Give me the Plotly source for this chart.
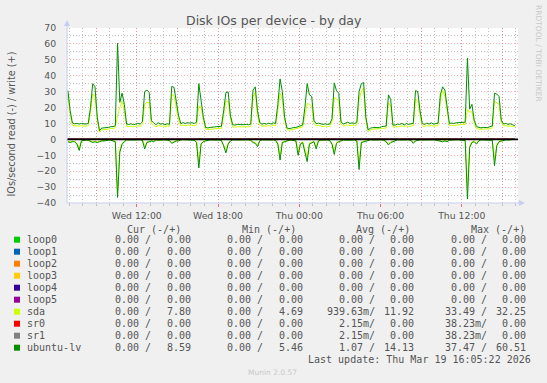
import plotly.graph_objects as go
import pandas as pd

# ---------------- data ----------------
start_time = "2026-03-18 06:55"
step = "10min"

ubuntu_write = [30.6, 18, 10.3,
    9.8, 10, 9.6, 10, 9.8, 9.6, 10,
    20, 35, 33, 14, 5.5,
    7.1, 7.1, 7.5, 7.5, 8, 8, 8.6,
    60.5, 23.3, 29, 22, 9.6,
    9.4, 9.8, 9.2, 9.6, 10, 9.6, 11,
    30, 31, 29.5, 11.7,
    10.5, 9.2, 10.5, 9.5, 10, 9.2, 9.8, 9.5,
    33.3, 32.7, 24, 15,
    10, 10.5, 10, 10.5, 10.2, 10.5, 10, 10.8,
    35, 24, 14,
    7.5, 7.2, 7.5, 7.5, 7.8, 8, 8, 8.2,
    18, 29.5, 29.8, 15,
    9.2, 9, 9.4, 9.2, 9, 9.2, 9.4, 9.2, 9.6,
    31, 33, 18, 10.5,
    9.5, 10, 9.6, 10.2, 9.6, 10.4, 10,
    22, 38, 30, 14,
    7.2, 6.8, 7, 7.5, 7.5, 8, 8.8, 9,
    20, 35, 28, 27, 12,
    9.8, 10.2, 9.6, 9.4, 9.8, 9.4, 9.6,
    13, 35.5, 30.5, 29, 11,
    9.6, 10.2, 10.8, 10, 10.4, 10, 10.8,
    30, 35, 35.8, 14, 6,
    7, 7.4, 7.4, 7.6, 7.4, 8, 8.2, 8.4,
    28, 25, 9,
    9, 9.6, 9.4, 10, 9, 10, 9.4, 9.8, 10,
    30.6, 30, 18, 10,
    9.4, 10.2, 9.6, 10.4, 9.6, 9.8, 10.2,
    28, 33, 31, 20, 10,
    10.2, 10, 10.4, 10.6, 10.4, 11, 10.8,
    51, 19, 22, 12,
    8, 7.4, 7.2, 7.5, 7.6, 7.4, 8, 8.4,
    29, 28.5, 27, 12,
    9.6, 10, 9.4, 9.8, 9.2, 8.6]

sda_write = [28, 16, 8.8,
    8.4, 8.6, 8.2, 8.6, 8.4, 8.2, 8.6,
    17, 28.5, 27, 12, 4.5,
    6, 6, 6.4, 6.4, 6.8, 6.8, 7.4,
    15, 20, 24, 18, 8.2,
    8, 8.4, 7.8, 8.2, 8.6, 8.2, 9.4,
    22, 23.3, 23, 10,
    9, 7.8, 9, 8.2, 8.6, 7.8, 8.4, 8.2,
    28, 27.5, 20, 12,
    8.6, 9, 8.6, 9, 8.8, 9, 8.6, 9.2,
    21, 20, 12,
    6.4, 6.2, 6.4, 6.4, 6.6, 6.8, 6.8, 7,
    15, 24, 24, 13,
    7.8, 7.6, 8, 7.8, 7.6, 7.8, 8, 7.8, 8.2,
    27, 29.5, 15, 9,
    8.2, 8.6, 8.2, 8.8, 8.2, 9, 8.6,
    18, 29, 25, 12,
    6.2, 5.8, 6, 6.4, 6.4, 6.8, 7.6, 7.8,
    15, 22.6, 22, 21, 10,
    8.4, 8.8, 8.2, 8, 8.4, 8, 8.2,
    11, 26.4, 25, 24, 9.5,
    8.2, 8.8, 9.2, 8.6, 9, 8.6, 9.2,
    25, 30, 32.2, 12, 5,
    6, 6.4, 6.4, 6.6, 6.4, 6.8, 7, 7.2,
    23, 21, 7.8,
    7.8, 8.2, 8, 8.6, 7.8, 8.6, 8, 8.4, 8.6,
    25, 24.5, 15, 8.6,
    8, 8.8, 8.2, 9, 8.2, 8.4, 8.8,
    24, 30.6, 27, 17, 8.6,
    8.8, 8.6, 9, 9.2, 9, 9.4, 9.2,
    19, 17, 17.5, 10,
    6.8, 6.4, 6.2, 6.4, 6.6, 6.4, 6.8, 7.2,
    24, 23, 22, 10.5,
    8.4, 8.6, 8.2, 8.4, 8, 7.8]

ubuntu_read = [-1.5, -2, -1.5, -1.5,
    -3, -7, -1,
    -0.5, -0.5, -0.5,
    -1.5, -2, -1.5, -2, -1.5,
    -1, -1, -0.5, -0.5, -0.5, -1, -1.5,
    -36.5, -8, -3, -1.5,
    -0.3, -0.4, -0.3, -0.2, -0.3, -0.4, -0.3, -0.5,
    -6, -2, -1.5, -1, -1.5,
    -0.3, -0.5, -0.3, -0.4, -0.3, -0.5, -0.8,
    -2.5, -1.5, -1, -1,
    -0.3, -0.2, -0.3, -0.4, -0.3, -0.3, -0.5,
    -2, -18, -3, -1.5, -1, -0.5,
    -0.3, -0.4, -0.3, -0.3, -0.4, -0.8,
    -4, -8.5, -3, -1,
    -0.3, -0.4, -0.3, -0.2, -0.3, -0.4, -0.3, -0.3, -0.6,
    -2, -2.5, -4.5, -1,
    -0.3, -0.4, -0.3, -0.3, -0.4, -0.3, -0.6,
    -3, -13, -2, -1.5, -1,
    -0.5, -0.5, -0.6, -1,
    -10, -3, -2, -8, -14, -3, -2, -1.5, -6, -1,
    -0.5, -0.4, -0.5, -0.4, -0.8,
    -3, -9.5, -2.5, -1.5, -1,
    -0.4, -0.5, -0.4, -0.3, -0.5, -0.4, -1,
    -19, -2, -1.5, -1, -0.5,
    -0.3, -0.4, -0.3, -0.3, -0.4, -0.3, -0.6,
    -1.5, -3.5, -2, -1.5, -1,
    -0.3, -0.4, -0.3, -0.3, -0.4, -0.3, -0.6,
    -2.5, -1, -0.5,
    -0.3, -0.4, -0.3, -0.3, -0.4, -0.3, -0.3, -0.5,
    -1, -1, -1.5, -1, -1.5, -0.5,
    -0.3, -0.4, -0.3, -0.3, -0.4, -0.3, -0.8,
    -37.5, -5, -2, -1.5, -3, -1,
    -0.3, -0.4, -0.3, -0.3, -0.4, -0.6,
    -16.5, -4, -1.5, -1, -0.5,
    -0.3, -0.4, -0.3, -0.3, 0]

sda_read = [-1.2, -1.6, -1.2, -1.2,
    -2.5, -5.5, -0.8,
    -0.4, -0.4, -0.4,
    -1.2, -1.6, -1.2, -1.6, -1.2,
    -0.8, -0.8, -0.4, -0.4, -0.4, -0.8, -1.2,
    -33.5, -6, -2.4, -1.2,
    -0.2, -0.3, -0.2, -0.2, -0.2, -0.3, -0.2, -0.4,
    -4.5, -1.6, -1.2, -0.8, -1.2,
    -0.2, -0.4, -0.2, -0.3, -0.2, -0.4, -0.6,
    -2, -1.2, -0.8, -0.8,
    -0.2, -0.2, -0.2, -0.3, -0.2, -0.2, -0.4,
    -1.6, -14, -2.4, -1.2, -0.8, -0.4,
    -0.2, -0.3, -0.2, -0.2, -0.3, -0.6,
    -3.2, -6.5, -2.4, -0.8,
    -0.2, -0.3, -0.2, -0.2, -0.2, -0.3, -0.2, -0.2, -0.5,
    -1.6, -2, -3.5, -0.8,
    -0.2, -0.3, -0.2, -0.2, -0.3, -0.2, -0.5,
    -2.4, -10, -1.6, -1.2, -0.8,
    -0.4, -0.4, -0.5, -0.8,
    -8, -2.4, -1.6, -6.5, -11, -2.4, -1.6, -1.2, -4.5, -0.8,
    -0.4, -0.3, -0.4, -0.3, -0.6,
    -2.4, -7.5, -2, -1.2, -0.8,
    -0.3, -0.4, -0.3, -0.2, -0.4, -0.3, -0.8,
    -15, -1.6, -1.2, -0.8, -0.4,
    -0.2, -0.3, -0.2, -0.2, -0.3, -0.2, -0.5,
    -1.2, -2.8, -1.6, -1.2, -0.8,
    -0.2, -0.3, -0.2, -0.2, -0.3, -0.2, -0.5,
    -2, -0.8, -0.4,
    -0.2, -0.3, -0.2, -0.2, -0.3, -0.2, -0.2, -0.4,
    -0.8, -0.8, -1.2, -0.8, -1.2, -0.4,
    -0.2, -0.3, -0.2, -0.2, -0.3, -0.2, -0.6,
    -30, -4, -1.6, -1.2, -2.4, -0.8,
    -0.2, -0.3, -0.2, -0.2, -0.3, -0.5,
    -13, -3.2, -1.2, -0.8, -0.4,
    -0.2, -0.3, -0.2, -0.2, 0]

names = ["loop0", "loop1", "loop2", "loop3", "loop4", "loop5",
         "sda", "sr0", "sr1", "ubuntu-lv"]
colors = ["#00CC00", "#0066B3", "#FF8000", "#FFCC00", "#330099",
          "#990099", "#CCFF00", "#FF0000", "#808080", "#008F00"]

cur_r = ["0.00"] * 10
cur_w = ["0.00"] * 6 + ["7.80", "0.00", "0.00", "8.59"]
min_r = ["0.00"] * 10
min_w = ["0.00"] * 6 + ["4.69", "0.00", "0.00", "5.46"]
avg_r = ["0.00"] * 6 + ["939.63m", "2.15m", "2.15m", "1.07"]
avg_w = ["0.00"] * 6 + ["11.92", "0.00", "0.00", "14.13"]
max_r = ["0.00"] * 6 + ["33.49", "38.23m", "38.23m", "37.47"]
max_w = ["0.00"] * 6 + ["32.25", "0.00", "0.00", "60.51"]

headers = ["Cur (-/+)", "Min (-/+)", "Avg (-/+)", "Max (-/+)"]
last_update = "Last update: Thu Mar 19 16:05:22 2026"

major_ticks = pd.date_range("2026-03-18 09:00", "2026-03-19 15:00", freq="3h")
tick_text = [t.strftime("%a %H:%M") if t.hour % 6 == 0 else "" for t in major_ticks]
minor_ticks = pd.date_range("2026-03-18 07:00", "2026-03-19 16:00", freq="1h")

# ---------------- figure ----------------
W, H = 547, 383
PL, PR, PT, PB = 67, 518, 28, 203


def fx(x):
    return (x - PL) / (PR - PL)


def fy(y):
    return (PB - y) / (PB - PT)


times = pd.date_range(start_time, periods=len(ubuntu_write), freq=step)
zeros = [0] * len(times)

series_write = {n: zeros for n in names}
series_read = {n: zeros for n in names}
series_write["sda"] = sda_write
series_read["sda"] = sda_read
series_write["ubuntu-lv"] = ubuntu_write
series_read["ubuntu-lv"] = ubuntu_read

fig = go.Figure()
for n, c in zip(names, colors):
    for ys in (series_read[n], series_write[n]):
        fig.add_trace(go.Scatter(x=times, y=ys, mode="lines",
                                 line=dict(color=c, width=1),
                                 hoverinfo="skip", showlegend=False))

GRID_MAJ = "rgba(240,110,110,0.55)"
GRID_MIN = "rgba(150,150,150,0.55)"
TXT = "#555555"
AX = "#C8CCF2"

fig.update_layout(
    width=W, height=H,
    margin=dict(l=PL, r=W - PR, t=PT, b=H - PB, pad=0),
    paper_bgcolor="#F0F0F0", plot_bgcolor="#FFFFFF",
    showlegend=False,
    font=dict(family="DejaVu Sans", size=9.3, color=TXT),
)
fig.update_xaxes(
    type="date",
    range=["2026-03-18 06:51", "2026-03-19 16:09"],
    tickmode="array", tickvals=major_ticks, ticktext=tick_text,
    showgrid=True, gridcolor=GRID_MAJ, griddash="1px,2px", gridwidth=1,
    ticks="outside", ticklen=3, tickcolor="#E07070",
    ticklabelstandoff=1,
    tickfont=dict(family="DejaVu Sans", size=9.3, color=TXT),
    minor=dict(tickmode="array", tickvals=minor_ticks, showgrid=True,
               gridcolor=GRID_MIN, griddash="1px,2px", gridwidth=1,
               ticks="outside", ticklen=2, tickcolor="#BBBBBB"),
    showline=False, zeroline=False,
)
fig.update_yaxes(
    range=[-40, 70],
    tickmode="linear", tick0=0, dtick=10,
    showgrid=True, gridcolor=GRID_MAJ, griddash="1px,2px", gridwidth=1,
    ticks="outside", ticklen=3, tickcolor="rgba(0,0,0,0)",
    ticklabelstandoff=5,
    tickfont=dict(family="DejaVu Sans", size=9.3, color=TXT),
    minor=dict(dtick=5, showgrid=True, gridcolor=GRID_MIN,
               griddash="1px,2px", gridwidth=1),
    showline=False, zeroline=False,
)

shapes = []
# zero rule
shapes.append(dict(type="line", xref="paper", yref="y", x0=0, x1=1, y0=0, y1=0,
                   line=dict(color="#000000", width=1.6), layer="above"))
# axes with arrows
shapes.append(dict(type="line", xref="paper", yref="paper",
                   x0=fx(PL), x1=fx(PL), y0=fy(PB), y1=fy(24),
                   line=dict(color=AX, width=1), layer="above"))
shapes.append(dict(type="line", xref="paper", yref="paper",
                   x0=fx(PL), x1=fx(521), y0=fy(PB), y1=fy(PB),
                   line=dict(color=AX, width=1), layer="above"))
shapes.append(dict(type="path", xref="paper", yref="paper",
                   path=f"M {fx(64)},{fy(26)} L {fx(70)},{fy(26)} L {fx(67)},{fy(20)} Z",
                   fillcolor=AX, line=dict(width=0), layer="above"))
shapes.append(dict(type="path", xref="paper", yref="paper",
                   path=f"M {fx(519)},{fy(200)} L {fx(519)},{fy(206)} L {fx(525)},{fy(203)} Z",
                   fillcolor=AX, line=dict(width=0), layer="above"))

ann = []
# title
ann.append(dict(text="Disk IOs per device - by day", x=fx(273.5), y=fy(20.5),
                xref="paper", yref="paper", showarrow=False,
                xanchor="center", yanchor="middle",
                font=dict(family="DejaVu Sans", size=12.5, color=TXT)))
# y title
ann.append(dict(text="IOs/second read (-) / write (+)", x=fx(10.5), y=fy(124),
                xref="paper", yref="paper", showarrow=False, textangle=-90,
                xanchor="center", yanchor="middle",
                font=dict(family="DejaVu Sans", size=9.7, color=TXT)))
# side watermark
ann.append(dict(text="RRDTOOL / TOBI OETIKER", x=fx(538.5), y=fy(53.5),
                xref="paper", yref="paper", showarrow=False, textangle=90,
                xanchor="center", yanchor="middle",
                font=dict(family="DejaVu Sans", size=7.5, color="#C8C8C8")))
# munin version
ann.append(dict(text="Munin 2.0.57", x=fx(272.5), y=fy(372),
                xref="paper", yref="paper", showarrow=False,
                xanchor="center", yanchor="middle",
                font=dict(family="DejaVu Sans", size=7.5, color="#C8C8C8")))

MONO = dict(family="DejaVu Sans Mono", size=10, color=TXT)
header_right = [182.1, 297, 411, 526]
for h, xr in zip(headers, header_right):
    ann.append(dict(text=h, x=fx(xr), y=fy(229), xref="paper", yref="paper",
                    showarrow=False, xanchor="right", yanchor="middle",
                    borderpad=0, font=MONO))

col_right = [152.2, 191.7, 264.2, 303.7, 375.5, 415, 487.6, 526.7]
cols = [cur_r, cur_w, min_r, min_w, avg_r, avg_w, max_r, max_w]


def neg_txt(v):
    return v + "/" if v.endswith("m") else v + " /"


for k, (n, c) in enumerate(zip(names, colors)):
    yrow = 239.7 + 12 * k
    shapes.append(dict(type="rect", xref="paper", yref="paper",
                       x0=fx(14), x1=fx(20), y0=fy(yrow - 3), y1=fy(yrow + 3),
                       fillcolor=c, line=dict(width=0), layer="above"))
    ann.append(dict(text=n, x=fx(26), y=fy(yrow), xref="paper", yref="paper",
                    showarrow=False, xanchor="left", yanchor="middle",
                    borderpad=0, font=MONO))
    for j, (col, xr) in enumerate(zip(cols, col_right)):
        v = col[k]
        t = neg_txt(v) if j % 2 == 0 else v
        ann.append(dict(text=t, x=fx(xr), y=fy(yrow), xref="paper", yref="paper",
                        showarrow=False, xanchor="right", yanchor="middle",
                        borderpad=0, font=MONO))

ann.append(dict(text=last_update, x=fx(532.3), y=fy(359.5), xref="paper", yref="paper",
                showarrow=False, xanchor="right", yanchor="middle",
                borderpad=0, font=MONO))

fig.update_layout(shapes=shapes, annotations=ann)
fig.write_html("out.html", config={"displayModeBar": False})
